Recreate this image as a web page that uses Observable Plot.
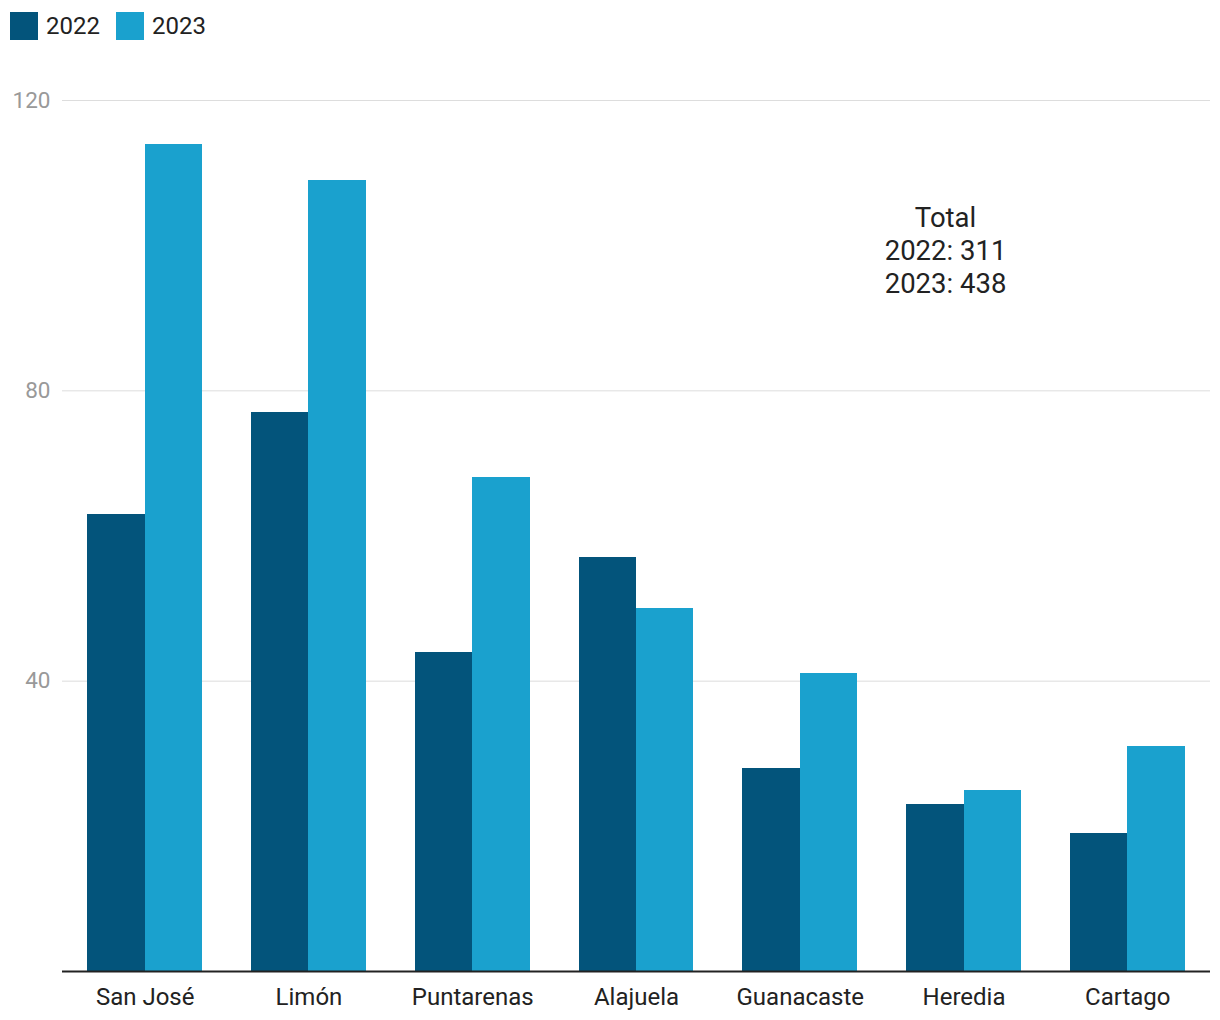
<!DOCTYPE html>
<html><head><meta charset="utf-8">
<script src="https://cdn.jsdelivr.net/npm/d3@7"></script>
<script src="https://cdn.jsdelivr.net/npm/@observablehq/plot@0.6"></script>
<style>
body{margin:0;background:#fff;font-family:Roboto,sans-serif;}
#wrap{position:relative;width:1220px;height:1020px;}
#legend{position:absolute;left:10px;top:12px;display:flex;align-items:center;font-size:24px;color:#222;z-index:2;}
.item{display:flex;align-items:center;margin-right:16px;}
.sw{width:28px;height:28px;margin-right:8px;}
#chart{position:absolute;left:0;top:0;}
</style></head>
<body><div id="wrap"><div id="legend"></div><div id="chart"></div></div>
<script>
const provinces = ["San José","Limón","Puntarenas","Alajuela","Guanacaste","Heredia","Cartago"];
const values2022 = [63,77,44,57,28,23,19];
const values2023 = [114,109,68,50,41,25,31];
const years = ["2022","2023"];
const colors = ["#03547b","#1aa1ce"];
const yTicks = [40,80,120];

const data2022 = provinces.map((p,i)=>({province:p, year:years[0], value:values2022[i]}));
const data2023 = provinces.map((p,i)=>({province:p, year:years[1], value:values2023[i]}));
const annot = `Total\n2022: ${d3.sum(values2022)}\n2023: ${d3.sum(values2023)}`;

const legend = document.getElementById("legend");
years.forEach((y,i)=>{
  const it = document.createElement("div"); it.className="item";
  const sw = document.createElement("div"); sw.className="sw"; sw.style.background=colors[i];
  const lb = document.createElement("span"); lb.textContent=y;
  it.appendChild(sw); it.appendChild(lb); legend.appendChild(it);
});

const W = 1220, H = 1020, mL = 62, mR = 10, mT = 100, mB = 49;
const padIn = 0.3, padOut = 0.155;
// half of the band width, so each year's bar fills half of its province band
const half = d3.scaleBand(provinces, [mL, W - mR]).paddingInner(padIn).paddingOuter(padOut).bandwidth() / 2;

const chart = Plot.plot({
  width:W, height:H, marginTop:mT, marginBottom:mB, marginLeft:mL, marginRight:mR,
  style:{fontFamily:"Roboto, sans-serif", fontSize:"22px", color:"#222", background:"transparent"},
  x:{domain:provinces, paddingInner:padIn, paddingOuter:padOut, round:false, label:null},
  y:{domain:[0,120], label:null},
  color:{domain:years, range:colors},
  marks:[
    Plot.gridY(yTicks, {stroke:"#dddddd", strokeOpacity:1}),
    Plot.axisY(yTicks, {tickSize:0, tickPadding:12, fill:"#999", fontSize:22.5, label:null}),
    Plot.barY(data2022, {x:"province", y:"value", fill:"year", insetRight:half, shapeRendering:"crispEdges"}),
    Plot.barY(data2023, {x:"province", y:"value", fill:"year", insetLeft:half, shapeRendering:"crispEdges"}),
    Plot.ruleY([0], {stroke:"#222", strokeWidth:2}),
    Plot.axisX({tickSize:0, tickPadding:16, fontSize:24, label:null, fill:"#222"}),
    Plot.text([annot], {frameAnchor:"top-right", dx:-265, dy:149, textAnchor:"middle", lineAnchor:"middle", fontSize:27.5, lineHeight:1.2, fill:"#222"})
  ]
});
document.getElementById("chart").appendChild(chart);
</script>
</body></html>
